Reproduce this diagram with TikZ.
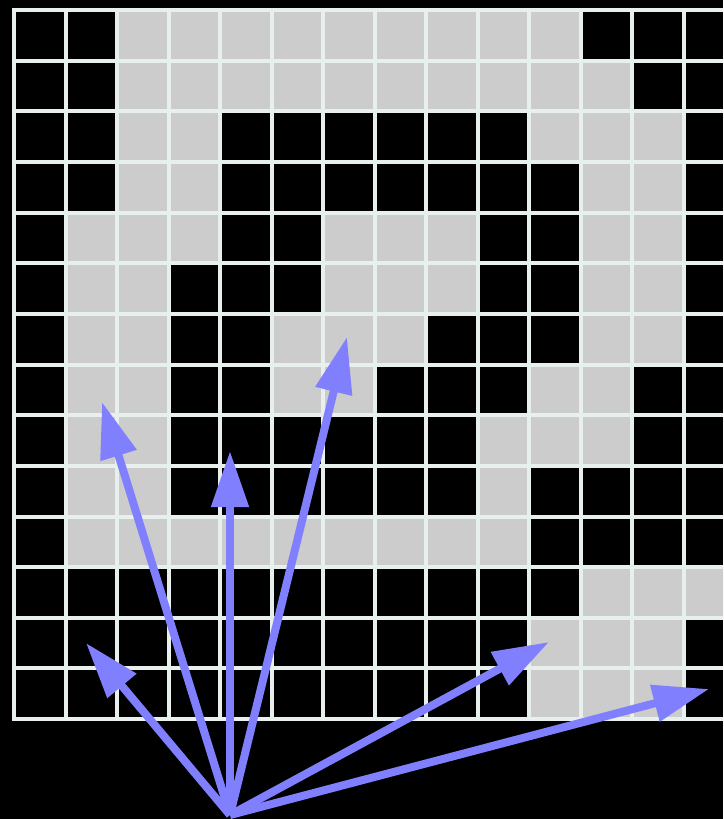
\documentclass[tikz,border=0pt]{standalone}
\usetikzlibrary{arrows.meta}
\definecolor{gridc}{RGB}{232,240,238}
\definecolor{cellg}{RGB}{204,204,204}
\definecolor{vecc}{RGB}{128,128,255}
\begin{document}
\begin{tikzpicture}[x=1pt,y=-1pt,
  gridline/.style={draw=gridc, line width=4pt, line cap=rect},
  cellfill/.style={fill=cellg},
  vec/.style={draw=vecc, line width=8pt, -{Triangle[length=56pt,width=36pt]}}]
\fill[black] (0,0) rectangle (723,819);
\useasboundingbox (0,0) rectangle (723,819);
\clip (0,0) rectangle (723,819);
\begin{scope}[xshift=14pt,yshift=-10pt,x=51.5pt,y=-50.65pt]
  \foreach \r/\cs in {0/{2,...,10},1/{2,...,11},2/{2,3,10,11,12},3/{2,3,11,12},4/{1,2,3,6,7,8,11,12},5/{1,2,6,7,8,11,12},6/{1,2,5,6,7,11,12},7/{1,2,5,6,10,11},8/{1,2,9,10,11},9/{1,2,9},10/{1,...,9},11/{11,12,13},12/{10,11,12},13/{10,11,12}}{
    \foreach \c in \cs {\fill[cellfill] (\c,\r) rectangle ++(1,1);}
  }
  \foreach \i in {0,...,14}{
    \draw[gridline] (\i,0) -- (\i,14);
    \draw[gridline] (0,\i) -- (14,\i);
  }
\end{scope}
\coordinate (o) at (230,815);
\coordinate (t1) at (86,643);
\coordinate (t2) at (102,402);
\coordinate (t3) at (230,451);
\coordinate (t4) at (347,337);
\coordinate (t5) at (549,642);
\coordinate (t6) at (709,689);
\foreach \t in {t1,t2,t3,t4,t5,t6}{\draw[vec] (o) -- (\t);}
\end{tikzpicture}
\end{document}
